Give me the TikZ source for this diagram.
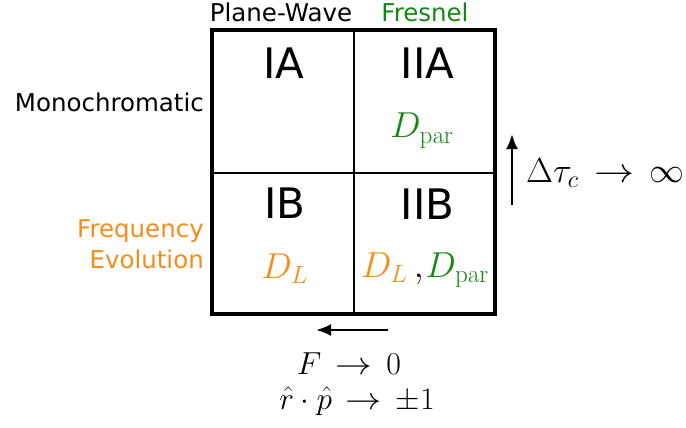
\RequirePackage{fix-cm}
\documentclass[tikz,border=0pt]{standalone}
\usepackage[no-math]{fontspec}
\usepackage{graphicx}
\newfontfamily\dv{DejaVu Sans}
\usetikzlibrary{arrows.meta}
\DeclareMathSizes{24.88}{24.88}{17.28}{12}
\definecolor{fgreen}{RGB}{20,135,20}
\definecolor{forange}{RGB}{245,140,25}
\newcommand{\myto}{\mathrel{\,\scalebox{1.15}[1]{$\rightarrow$}\,}}
\newcommand{\mymath}[2][1.246]{\scalebox{#1}{\fontsize{24.88}{30}\selectfont$#2$}}
\tikzset{
  lbl/.style={font=\dv\fontsize{24.5}{28}\selectfont, inner sep=0pt},
  quad/.style={font=\dv\fontsize{42}{48}\selectfont, inner sep=0pt, anchor=base},
  mth/.style={inner sep=0pt, anchor=base},
  arr/.style={line width=2.6pt, -{Latex[length=15pt,width=12pt]}},
}
\begin{document}
\begin{tikzpicture}[x=1pt,y=-1pt]
\useasboundingbox (0,0) rectangle (686,428);
% grid
\coordinate (tl) at (212,30);
\coordinate (br) at (495,313.5);
\coordinate (vt) at (354,30);
\coordinate (vb) at (354,313.5);
\coordinate (hl) at (212,173);
\coordinate (hr) at (495,173);
\draw[line width=1.8pt] (vt) -- (vb);
\draw[line width=1.8pt] (hl) -- (hr);
\draw[line width=4pt] (tl) rectangle (br);
% column / row headers
\node[lbl, anchor=base] (pw) at (281,22) {Plane-Wave};
\node[lbl, anchor=base, text=fgreen] (fr) at (425,22) {Fresnel};
\node[lbl, anchor=base east] (mono) at (204,112) {Monochromatic};
\node[lbl, anchor=base east, text=forange] (freq) at (204,237) {Frequency};
\node[lbl, anchor=base east, text=forange] (evo) at (204,268) {Evolution};
% quadrants
\node[quad] (ia) at (284,78) {IA};
\node[quad] (iia) at (427.5,78) {IIA};
\node[quad] (ib) at (285,218) {IB};
\node[quad] (iib) at (427.5,219) {IIB};
\node[mth] (dpar) at (422,138) {\mymath[1.45]{\textcolor{fgreen}{D_{\mathrm{par}}}}};
\node[mth] (dl) at (285,278) {\mymath[1.45]{\textcolor{forange}{D_L}}};
\node[mth] (dboth) at (425,277) {\mymath[1.45]{\textcolor{forange}{D_L}\mskip3mu{,}\mskip1mu\textcolor{fgreen}{D_{\mathrm{par}}}}};
% limits
\coordinate (ua) at (512,205);
\coordinate (ub) at (512,134);
\draw[arr] (ua) -- (ub);
\node[mth, anchor=base west] (tau) at (526,182) {\mymath[1.4]{\Delta\tau_c\myto\infty}};
\coordinate (la) at (388,330);
\coordinate (lb) at (316,330);
\draw[arr] (la) -- (lb);
\node[mth] (f0) at (349,374) {\mymath[1.28]{F\myto 0}};
\node[mth] (rp) at (357,409) {\mymath[1.26]{\hat r\cdot\hat p\myto \pm 1}};
\end{tikzpicture}
\end{document}
